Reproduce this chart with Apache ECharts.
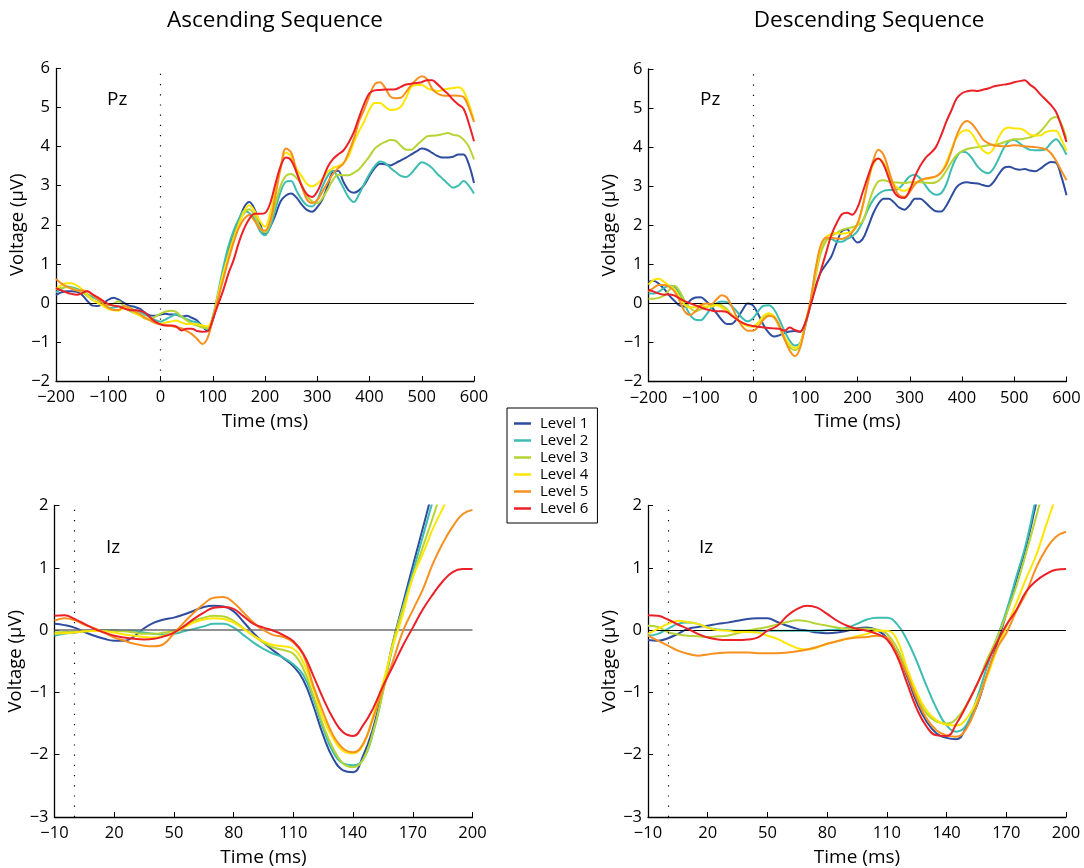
<!DOCTYPE html>
<html>
<head>
<meta charset="utf-8">
<script src="https://cdn.jsdelivr.net/npm/echarts@6/dist/echarts.min.js"></script>
<style>
  html, body { margin: 0; padding: 0; background: #fff; }
  #chart { width: 1084px; height: 868px; }
</style>
</head>
<body>
<div id="chart"></div>
<script>
// ---- sample times (ms) ----
const timePz = [-200,-190,-180,-170,-160,-150,-140,-130,-120,-110,-100,-90,-80,-70,-60,-50,-40,-30,-20,-10,
  0,10,20,30,40,50,60,70,80,90,100,110,120,130,140,150,160,170,180,190,200,210,220,230,240,250,260,270,280,290,
  300,310,320,330,340,350,360,370,380,390,400,410,420,430,440,450,460,470,480,490,500,510,520,530,540,550,560,570,580,590,600];
const timeIz = [-10,-5,0,5,10,15,20,25,30,35,40,45,50,55,60,65,70,75,80,85,90,95,100,105,110,115,120,125,130,135,
  140,145,150,155,160,165,170,175,180,185,190,195,200];

const levelNames = ['Level 1', 'Level 2', 'Level 3', 'Level 4', 'Level 5', 'Level 6'];
const xTicksPz = [-200, -100, 0, 100, 200, 300, 400, 500, 600];
const xTicksIz = [-10, 20, 50, 80, 110, 140, 170, 200];

// ---- Ascending sequence, Pz (µV) ----
const ascPzLevel1 = [0.2,0.27,0.3,0.3,0.28,0.2,0.05,-0.07,-0.08,-0.02, 0.08,0.13,0.08,0,-0.07,-0.1,-0.15,-0.25,-0.32,-0.33,
  -0.3,-0.28,-0.3,-0.3,-0.35,-0.33,-0.38,-0.45,-0.6,-0.72, -0.45,0.15,0.8,1.35,1.78,2.1,2.45,2.58,2.4,2.05,
  1.75,1.95,2.25,2.6,2.75,2.8,2.7,2.52,2.38,2.33, 2.45,2.65,3.0,3.35,3.38,3.1,2.88,2.82,2.88,3.02,
  3.25,3.45,3.56,3.55,3.52,3.58,3.65,3.72,3.8,3.88, 3.95,3.92,3.84,3.76,3.72,3.72,3.74,3.8,3.8,3.55,3.07];
const ascPzLevel2 = [0.27,0.35,0.42,0.4,0.36,0.3,0.22,0.15,0.08,-0.03, -0.13,-0.12,-0.09,-0.1,-0.12,-0.18,-0.22,-0.3,-0.36,-0.44,
  -0.48,-0.42,-0.35,-0.3,-0.35,-0.42,-0.47,-0.5,-0.6,-0.68, -0.35,0.25,0.9,1.45,1.85,2.15,2.35,2.3,2.15,1.85,
  1.73,1.95,2.4,2.85,3.1,3.12,2.88,2.65,2.5,2.47, 2.63,2.98,3.25,3.38,3.2,2.95,2.7,2.58,2.78,3.05,
  3.3,3.5,3.62,3.58,3.45,3.35,3.25,3.22,3.32,3.48, 3.6,3.55,3.45,3.3,3.18,3.05,2.95,3.0,3.12,3.0,2.8];
const ascPzLevel3 = [0.35,0.38,0.4,0.38,0.33,0.27,0.18,0.08,0.02,-0.04, -0.07,-0.02,0.04,-0.08,-0.2,-0.26,-0.32,-0.4,-0.41,-0.35,
  -0.28,-0.22,-0.2,-0.23,-0.35,-0.45,-0.53,-0.58,-0.63,-0.65, -0.4,0.1,0.7,1.25,1.7,2.05,2.3,2.4,2.25,1.95,
  1.8,2.05,2.55,3.0,3.25,3.3,3.2,3.03,2.75,2.6, 2.55,2.68,2.9,3.15,3.28,3.27,3.27,3.33,3.42,3.58,
  3.75,3.95,4.05,4.12,4.17,4.15,4.02,3.92,3.92,4.03, 4.15,4.26,4.28,4.29,4.32,4.35,4.3,4.28,4.18,4.0,3.67];
const ascPzLevel4 = [0.36,0.45,0.5,0.5,0.44,0.35,0.2,0.08,0,-0.08, -0.15,-0.19,-0.2,-0.13,-0.12,-0.25,-0.32,-0.38,-0.43,-0.5,
  -0.54,-0.5,-0.48,-0.45,-0.5,-0.54,-0.54,-0.55,-0.58,-0.6, -0.38,0.2,0.75,1.2,1.62,2.0,2.35,2.5,2.35,2.1,
  1.95,2.3,2.9,3.5,3.85,3.75,3.45,3.25,3.05,2.98, 3.05,3.18,3.35,3.45,3.5,3.58,3.75,4.1,4.4,4.65,
  4.95,5.12,5.12,5.02,4.94,4.95,5.02,5.25,5.53,5.58, 5.58,5.5,5.45,5.42,5.45,5.48,5.5,5.52,5.42,5.1,4.67];
const ascPzLevel5 = [0.61,0.5,0.42,0.36,0.32,0.32,0.3,0.2,0.1,-0.02, -0.12,-0.18,-0.18,-0.08,-0.12,-0.22,-0.28,-0.38,-0.45,-0.52,
  -0.55,-0.57,-0.59,-0.62,-0.65,-0.72,-0.8,-0.92,-1.05,-0.9, -0.42,0.1,0.6,1.1,1.55,1.92,2.15,2.25,2.1,1.9,
  1.85,2.1,2.75,3.45,3.95,3.85,3.4,3.0,2.65,2.55, 2.63,2.85,3.08,3.3,3.45,3.56,3.85,4.2,4.65,4.95,
  5.3,5.6,5.65,5.5,5.28,5.24,5.25,5.4,5.58,5.72, 5.8,5.73,5.48,5.36,5.31,5.3,5.31,5.3,5.27,5.0,4.63];
const ascPzLevel6 = [0.38,0.32,0.27,0.23,0.21,0.25,0.3,0.22,0.14,0.05, -0.03,-0.07,-0.09,-0.14,-0.18,-0.19,-0.2,-0.25,-0.37,-0.48,
  -0.55,-0.58,-0.58,-0.6,-0.71,-0.66,-0.66,-0.72,-0.74,-0.73, -0.42,-0.05,0.32,0.75,1.1,1.55,1.9,2.15,2.28,2.28,
  2.3,2.55,3.05,3.5,3.72,3.65,3.35,3.0,2.78,2.71, 2.85,3.15,3.48,3.68,3.8,3.9,4.1,4.37,4.75,5.1,
  5.37,5.44,5.45,5.46,5.46,5.47,5.53,5.59,5.61,5.63, 5.65,5.7,5.7,5.6,5.47,5.35,5.2,5.08,4.97,4.6,4.14];

// ---- Descending sequence, Pz (µV) ----
const descPzLevel1 = [0.55,0.58,0.5,0.37,0.2,0.06,-0.06,-0.08,0.08,0.15, 0.16,0.06,-0.08,-0.25,-0.42,-0.53,-0.52,-0.38,-0.17,0,
  -0.05,-0.28,-0.55,-0.75,-0.85,-0.82,-0.76,-0.72,-0.71,-0.73, -0.5,-0.05,0.45,0.8,1.0,1.2,1.55,1.85,1.9,1.7,
  1.56,1.65,1.95,2.3,2.55,2.68,2.68,2.58,2.45,2.4, 2.52,2.68,2.68,2.58,2.45,2.36,2.35,2.5,2.75,2.98,
  3.08,3.1,3.08,3.07,3.03,3.0,3.1,3.3,3.47,3.5, 3.45,3.42,3.44,3.4,3.38,3.45,3.55,3.62,3.6,3.25,2.77];
const descPzLevel2 = [0.25,0.25,0.3,0.4,0.45,0.42,0.22,-0.05,-0.3,-0.42, -0.43,-0.3,-0.12,0,0.05,0.03,-0.08,-0.22,-0.38,-0.46,
  -0.38,-0.2,-0.06,-0.05,-0.15,-0.4,-0.7,-0.95,-1.08,-1.02, -0.6,0.05,0.85,1.4,1.65,1.65,1.58,1.58,1.65,1.72,
  1.85,2.1,2.4,2.65,2.8,2.88,2.9,2.9,2.95,3.1, 3.25,3.29,3.2,3.02,2.85,2.78,2.82,3.05,3.45,3.75,
  3.88,3.85,3.7,3.5,3.38,3.33,3.45,3.7,3.98,4.15, 4.18,4.1,4.0,3.93,3.92,3.92,3.95,4.1,4.2,4.05,3.8];
const descPzLevel3 = [0.12,0.12,0.14,0.2,0.35,0.45,0.3,0.05,-0.12,-0.2, -0.15,-0.1,-0.05,-0.02,-0.05,-0.15,-0.3,-0.42,-0.5,-0.56,
  -0.58,-0.5,-0.36,-0.3,-0.36,-0.6,-0.9,-1.12,-1.2,-1.08, -0.55,0,0.7,1.3,1.6,1.72,1.8,1.88,1.92,1.95,
  2.0,2.1,2.5,2.9,3.12,3.15,3.12,3.1,3.09,3.08, 3.1,3.1,3.1,3.09,3.08,3.1,3.2,3.4,3.62,3.8,
  3.9,3.95,3.98,4.0,4.02,4.05,4.06,4.08,4.12,4.17, 4.2,4.2,4.22,4.25,4.3,4.4,4.55,4.72,4.77,4.6,4.22];
const descPzLevel4 = [0.48,0.6,0.63,0.55,0.45,0.35,0.15,-0.05,-0.1,-0.1, -0.05,-0.08,-0.08,-0.05,-0.1,-0.2,-0.3,-0.42,-0.52,-0.58,
  -0.6,-0.5,-0.32,-0.25,-0.32,-0.55,-0.85,-1.05,-1.14,-1.05, -0.5,0.05,0.8,1.45,1.7,1.78,1.8,1.78,1.8,1.85,
  2.0,2.5,3.1,3.55,3.7,3.6,3.3,3.05,2.92,2.88, 2.95,3.08,3.15,3.18,3.2,3.25,3.35,3.6,3.95,4.25,
  4.4,4.43,4.32,4.1,3.92,3.84,3.95,4.25,4.45,4.5, 4.48,4.48,4.42,4.32,4.3,4.3,4.38,4.42,4.42,4.2,3.9];
const descPzLevel5 = [0.3,0.4,0.47,0.47,0.42,0.3,0.05,-0.22,-0.3,-0.2, -0.05,0,-0.02,0.1,0.21,0.15,-0.1,-0.38,-0.6,-0.7,
  -0.7,-0.6,-0.42,-0.32,-0.35,-0.55,-0.9,-1.2,-1.35,-1.15, -0.55,0.05,0.9,1.5,1.68,1.68,1.66,1.65,1.7,1.82,
  2.05,2.5,3.1,3.65,3.93,3.8,3.4,3.0,2.76,2.73, 2.85,3.05,3.15,3.2,3.22,3.25,3.35,3.55,3.9,4.3,
  4.58,4.67,4.58,4.4,4.2,4.1,4.05,4.03,4.02,4.03, 4.05,4.04,4.02,4.01,4.0,3.98,3.95,3.85,3.65,3.4,3.15];
const descPzLevel6 = [0.35,0.3,0.25,0.22,0.23,0.2,0.12,0.05,0,-0.05, -0.1,-0.15,-0.18,-0.2,-0.2,-0.22,-0.32,-0.42,-0.5,-0.55,
  -0.58,-0.6,-0.62,-0.63,-0.64,-0.65,-0.7,-0.62,-0.68,-0.72, -0.5,-0.05,0.4,0.85,1.3,1.75,2.05,2.28,2.32,2.27,
  2.45,2.85,3.25,3.6,3.71,3.55,3.2,2.85,2.72,2.7, 2.9,3.25,3.52,3.72,3.85,4.0,4.3,4.65,4.95,5.25,
  5.38,5.43,5.45,5.44,5.47,5.5,5.55,5.58,5.6,5.62, 5.66,5.69,5.71,5.6,5.5,5.35,5.22,5.08,4.9,4.55,4.13];

// ---- Ascending sequence, Iz (µV); null once a trace has left the plotted range ----
const ascIzLevel1 = [0.1,0.08,0.04,-0.03,-0.09,-0.14,-0.17,-0.17,-0.1,0.03, 0.12,0.17,0.2,0.25,0.31,0.37,0.39,0.38,0.3,0.13,
  -0.05,-0.2,-0.33,-0.45,-0.58,-0.8,-1.21,-1.69,-2.06,-2.25, -2.28,-2.02,-1.58,-0.95,-0.2,0.42,1.03,1.63,2.24,null, null,null,null];
const ascIzLevel2 = [-0.09,-0.06,-0.04,-0.02,0,0,0,-0.01,-0.01,-0.04, -0.06,-0.07,-0.06,-0.02,0.02,0.06,0.1,0.1,0.04,-0.08,
  -0.2,-0.3,-0.38,-0.44,-0.55,-0.72,-1.1,-1.58,-1.96,-2.14, -2.17,-2.08,-1.66,-0.98,-0.25,0.36,0.93,1.5,2.07,null, null,null,null];
const ascIzLevel3 = [-0.04,-0.03,-0.03,-0.02,-0.01,-0.01,-0.01,-0.02,-0.04,-0.06, -0.06,-0.04,-0.01,0.06,0.15,0.2,0.23,0.22,0.15,0.03,
  -0.09,-0.2,-0.28,-0.32,-0.38,-0.62,-1.05,-1.53,-1.9,-2.14, -2.2,-2.08,-1.64,-1.0,-0.2,0.35,0.85,1.33,1.8,2.3, null,null,null];
const ascIzLevel4 = [-0.06,-0.05,-0.04,-0.02,-0.01,-0.02,-0.04,-0.07,-0.09,-0.11, -0.12,-0.09,-0.04,0.04,0.12,0.17,0.19,0.18,0.12,0.02,
  -0.09,-0.18,-0.24,-0.26,-0.3,-0.52,-0.94,-1.42,-1.74,-1.94, -1.98,-1.85,-1.38,-0.85,-0.25,0.25,0.85,1.22,1.62,1.95, 2.3,null,null];
const ascIzLevel5 = [0.15,0.19,0.16,0.09,0.03,-0.04,-0.12,-0.17,-0.22,-0.25, -0.26,-0.22,-0.05,0.12,0.28,0.42,0.52,0.53,0.44,0.28,
  0.12,0,-0.08,-0.11,-0.2,-0.4,-0.89,-1.32,-1.69,-1.9, -1.96,-1.83,-1.42,-0.95,-0.5,-0.02,0.32,0.65,1.06,1.39, 1.66,1.86,1.93];
const ascIzLevel6 = [0.23,0.24,0.18,0.1,0.02,-0.04,-0.09,-0.12,-0.14,-0.15, -0.14,-0.1,-0.04,0.06,0.18,0.28,0.36,0.37,0.34,0.22,
  0.1,0.04,-0.01,-0.08,-0.18,-0.38,-0.73,-1.1,-1.42,-1.64, -1.7,-1.53,-1.26,-0.9,-0.58,-0.25,0.04,0.33,0.57,0.78, 0.93,0.98,0.98];

// ---- Descending sequence, Iz (µV) ----
const descIzLevel1 = [-0.16,-0.17,-0.13,-0.06,0.02,0.05,0.07,0.1,0.12,0.15, 0.18,0.19,0.19,0.13,0.07,0.02,-0.01,-0.04,-0.05,-0.04,
  -0.01,0.03,0.04,0,-0.12,-0.36,-0.73,-1.16,-1.47,-1.66, -1.73,-1.75,-1.55,-1.23,-0.75,-0.26,0.26,0.8,1.35,2.04, null,null,null];
const descIzLevel2 = [-0.09,-0.06,0.02,0.1,0.12,0.1,0.04,0.01,0,-0.01, -0.01,-0.01,-0.01,-0.01,-0.01,-0.01,-0.01,-0.01,0,0.01,
  0.04,0.1,0.17,0.2,0.2,0.1,-0.15,-0.5,-0.9,-1.26, -1.53,-1.63,-1.52,-1.12,-0.62,-0.15,0.3,0.85,1.4,2.15, null,null,null];
const descIzLevel3 = [0.07,0.05,-0.03,-0.07,-0.09,-0.1,-0.11,-0.1,-0.09,-0.05, -0.01,0.02,0.05,0.09,0.13,0.16,0.14,0.1,0.07,0.04,
  0.02,0.02,0.02,0.01,-0.06,-0.28,-0.65,-1.05,-1.34,-1.47, -1.5,-1.42,-1.2,-0.9,-0.5,-0.15,0.25,0.7,1.24,1.82, 2.4,null,null];
const descIzLevel4 = [-0.06,0.02,0.1,0.15,0.13,0.1,0.04,0,-0.01,-0.03, -0.03,-0.04,-0.09,-0.14,-0.22,-0.29,-0.31,-0.28,-0.22,-0.18,
  -0.14,-0.1,-0.06,-0.01,-0.01,-0.15,-0.6,-1.0,-1.29,-1.45, -1.52,-1.53,-1.42,-1.15,-0.78,-0.34,0.05,0.43,0.83,1.2, 1.68,2.15,null];
const descIzLevel5 = [-0.09,-0.17,-0.25,-0.33,-0.38,-0.41,-0.39,-0.37,-0.36,-0.36, -0.36,-0.37,-0.37,-0.37,-0.36,-0.34,-0.31,-0.27,-0.22,-0.18,
  -0.14,-0.12,-0.11,-0.09,-0.12,-0.37,-0.7,-1.1,-1.42,-1.61, -1.69,-1.71,-1.58,-1.22,-0.74,-0.31,-0.05,0.3,0.6,1.0, 1.3,1.5,1.58];
const descIzLevel6 = [0.24,0.23,0.17,0.09,0.02,-0.06,-0.12,-0.15,-0.16,-0.16, -0.15,-0.12,-0.01,0.07,0.23,0.34,0.39,0.36,0.26,0.15,
  0.07,0.02,-0.01,-0.06,-0.15,-0.41,-0.84,-1.26,-1.55,-1.69, -1.7,-1.5,-1.21,-0.89,-0.55,-0.22,0.08,0.32,0.62,0.79, 0.9,0.97,0.98];

const levelColors = ['#2F4D9F', '#3DBDB2', '#B6D433', '#FFE600', '#F7901E', '#EC2027'];
const FONT = 'Open Sans';

const panels = [
  { time: timePz, ticks: xTicksPz, levels: [ascPzLevel1, ascPzLevel2, ascPzLevel3, ascPzLevel4, ascPzLevel5, ascPzLevel6], grid: { left: 56, top: 68.5, width: 418, height: 312.5 }, x: [-200, 600], y: [-2, 6], zeroColor: '#000' },
  { time: timePz, ticks: xTicksPz, levels: [descPzLevel1, descPzLevel2, descPzLevel3, descPzLevel4, descPzLevel5, descPzLevel6], grid: { left: 648.5, top: 69, width: 418, height: 312.5 }, x: [-200, 600], y: [-2, 6], zeroColor: '#000' },
  { time: timeIz, ticks: xTicksIz, levels: [ascIzLevel1, ascIzLevel2, ascIzLevel3, ascIzLevel4, ascIzLevel5, ascIzLevel6], grid: { left: 54.5, top: 505.5, width: 418, height: 312.5 }, x: [-10, 200], y: [-3, 2], zeroColor: '#6e6e6e' },
  { time: timeIz, ticks: xTicksIz, levels: [descIzLevel1, descIzLevel2, descIzLevel3, descIzLevel4, descIzLevel5, descIzLevel6], grid: { left: 648, top: 505.5, width: 418, height: 312.5 }, x: [-10, 200], y: [-3, 2], zeroColor: '#000' }
];

const minusFmt = v => String(v).replace('-', '\u2212');

const grids = [], xAxes = [], yAxes = [], series = [];
panels.forEach((p, i) => {
  grids.push(Object.assign({ containLabel: false }, p.grid));
  const isIz = p.time === timeIz;
  xAxes.push({
    type: 'value', gridIndex: i, min: p.x[0], max: p.x[1],
    axisLine: { show: true, onZero: false, lineStyle: { color: '#000', width: 1.3 } },
    axisTick: { show: true, inside: true, length: 5, lineStyle: { color: '#000', width: 1 }, customValues: p.ticks },
    axisLabel: { color: '#000', fontFamily: FONT, fontSize: 16.5, margin: 8, formatter: minusFmt, customValues: p.ticks },
    splitLine: { show: false },
    name: 'Time (ms)', nameLocation: 'middle', nameGap: 31,
    nameTextStyle: { color: '#000', fontFamily: FONT, fontSize: 19 }
  });
  yAxes.push({
    type: 'value', gridIndex: i, min: p.y[0], max: p.y[1], interval: 1,
    axisLine: { show: true, onZero: false, lineStyle: { color: '#000', width: 1.3 } },
    axisTick: { show: true, inside: true, length: 5, lineStyle: { color: '#000', width: 1 } },
    axisLabel: { color: '#000', fontFamily: FONT, fontSize: 16.5, margin: 6, formatter: minusFmt },
    splitLine: { show: false },
    name: 'Voltage (μV)', nameLocation: 'middle', nameGap: 23,
    nameTextStyle: { color: '#000', fontFamily: FONT, fontSize: 18.5 }
  });
  // reference lines: zero voltage and stimulus onset
  series.push({
    type: 'line', xAxisIndex: i, yAxisIndex: i, data: [], z: 1, silent: true,
    markLine: {
      silent: true, symbol: 'none', animation: false, label: { show: false },
      data: [
        { yAxis: 0, lineStyle: { color: p.zeroColor, width: p.zeroColor === '#000' ? 1 : 1.6, type: 'solid' } },
        { xAxis: 0, lineStyle: { color: '#000', width: 1.2, type: [1.2, 9] } }
      ]
    }
  });
  p.levels.forEach((vals, k) => {
    series.push({
      name: levelNames[k], type: 'line', xAxisIndex: i, yAxisIndex: i,
      data: p.time.map((t, j) => [t, vals[j]]),
      showSymbol: false, symbol: 'none', smooth: isIz ? 0.45 : 0.35,
      clip: true, z: 2 + k,
      lineStyle: { color: levelColors[k], width: 2 },
      itemStyle: { color: levelColors[k] },
      emphasis: { disabled: true }
    });
  });
});

const chart = echarts.init(document.getElementById('chart'), null, { renderer: 'canvas' });
chart.setOption({
  animation: false,
  backgroundColor: '#fff',
  textStyle: { fontFamily: FONT },
  grid: grids,
  xAxis: xAxes,
  yAxis: yAxes,
  series: series,
  legend: {
    data: levelNames, orient: 'vertical', left: 507, top: 408,
    icon: 'rect', itemWidth: 17, itemHeight: 2.5, itemGap: 0,
    padding: [7, 9, 6, 7],
    backgroundColor: '#fff', borderColor: '#000', borderWidth: 1,
    textStyle: { color: '#000', fontFamily: FONT, fontSize: 15, lineHeight: 17, padding: [0, 0, 0, 4] },
    selectedMode: false
  },
  graphic: [
    { type: 'text', x: 275, y: 21, style: { text: 'Ascending Sequence', fill: '#000', font: '22.5px "Open Sans"', align: 'center', verticalAlign: 'middle' } },
    { type: 'text', x: 869, y: 21, style: { text: 'Descending Sequence', fill: '#000', font: '22.5px "Open Sans"', align: 'center', verticalAlign: 'middle' } },
    { type: 'text', x: 107, y: 100, style: { text: 'Pz', fill: '#000', font: '19px "Open Sans"', align: 'left', verticalAlign: 'middle' } },
    { type: 'text', x: 700, y: 100, style: { text: 'Pz', fill: '#000', font: '19px "Open Sans"', align: 'left', verticalAlign: 'middle' } },
    { type: 'text', x: 106, y: 548, style: { text: 'Iz', fill: '#000', font: '19px "Open Sans"', align: 'left', verticalAlign: 'middle' } },
    { type: 'text', x: 699, y: 548, style: { text: 'Iz', fill: '#000', font: '19px "Open Sans"', align: 'left', verticalAlign: 'middle' } }
  ]
});
</script>
</body>
</html>
